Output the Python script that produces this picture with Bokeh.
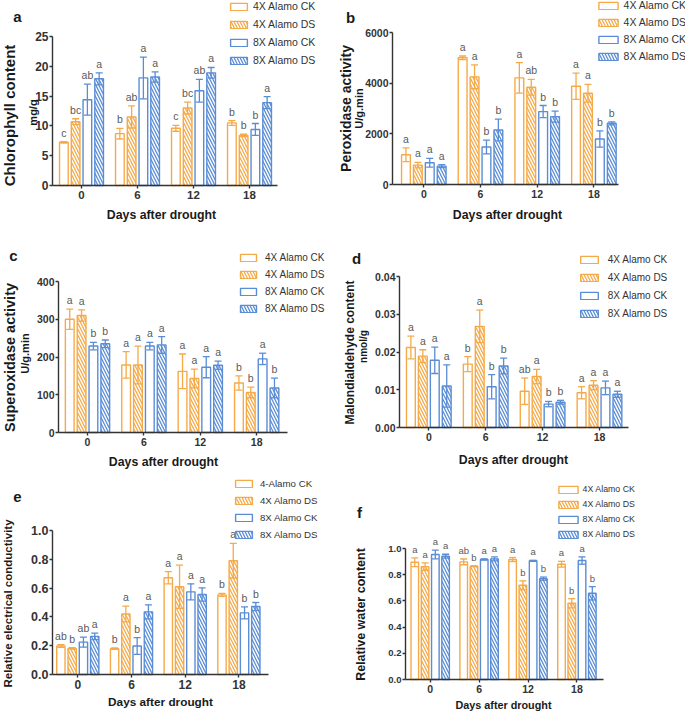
import math
from bokeh.plotting import figure
from bokeh.models import (Range1d, FixedTicker, Label, Legend, LegendItem, Whisker,
                          TeeHead, ColumnDataSource, NumeralTickFormatter)
from bokeh.layouts import column, row
from bokeh.core.properties import value
from bokeh.embed import file_html
from bokeh.resources import INLINE

# ---------------- data ----------------
days = ["0", "6", "12", "18"]
series_names = ["4X Alamo CK", "4X Alamo DS", "8X Alamo CK", "8X Alamo DS"]
series_names_e = ["4-Alamo CK", "4X Alamo DS", "8X Alamo CK", "8X Alamo DS"]

# a  Chlorophyll content (mg/g)
chl_4x_ck = [7.25, 8.7, 9.6, 10.5]
chl_4x_ck_err = [0.12, 0.9, 0.5, 0.4]
chl_4x_ck_sig = ["c", "b", "c", "b"]
chl_4x_ds = [10.7, 11.5, 13.0, 8.4]
chl_4x_ds_err = [0.5, 1.85, 1.0, 0.2]
chl_4x_ds_sig = ["bc", "ab", "bc", "b"]
chl_8x_ck = [14.4, 18.05, 15.9, 9.4]
chl_8x_ck_err = [2.6, 3.5, 1.9, 1.0]
chl_8x_ck_sig = ["ab", "a", "ab", "b"]
chl_8x_ds = [17.9, 18.2, 18.9, 13.9]
chl_8x_ds_err = [1.0, 0.85, 0.9, 1.0]
chl_8x_ds_sig = ["a", "a", "a", "a"]
chl_yticks = [0, 5, 10, 15, 20, 25]

# b  Peroxidase activity (U/g.min)
pod_4x_ck = [1175, 5003, 4210, 3880]
pod_4x_ck_err = [270, 70, 600, 520]
pod_4x_ck_sig = ["a", "a", "a", "a"]
pod_4x_ds = [766, 4250, 3840, 3600]
pod_4x_ds_err = [110, 470, 310, 350]
pod_4x_ds_sig = ["a", "a", "ab", "a"]
pod_8x_ck = [858, 1478, 2878, 1795]
pod_8x_ck_err = [170, 270, 240, 320]
pod_8x_ck_sig = ["a", "b", "b", "b"]
pod_8x_ds = [726, 2150, 2680, 2415]
pod_8x_ds_err = [60, 430, 220, 60]
pod_8x_ds_sig = ["a", "b", "b", "b"]
pod_yticks = [0, 2000, 4000, 6000]

# c  Superoxidase activity (U/g.min)
sod_4x_ck = [300, 179, 162, 131]
sod_4x_ck_err = [27, 35, 46, 19]
sod_4x_ck_sig = ["a", "a", "a", "b"]
sod_4x_ds = [310, 179, 143, 106]
sod_4x_ds_err = [15, 50, 25, 14]
sod_4x_ds_sig = ["a", "a", "a", "b"]
sod_8x_ck = [229, 229, 173, 195]
sod_8x_ck_err = [10, 10, 28, 15]
sod_8x_ck_sig = ["b", "a", "a", "a"]
sod_8x_ds = [235, 232, 178, 118]
sod_8x_ds_err = [10, 22, 11, 26]
sod_8x_ds_sig = ["b", "a", "a", "b"]
sod_yticks = [0, 100, 200, 300, 400]

# d  Malondialdehyde content (nmol/g)
mda_4x_ck = [0.0212, 0.0168, 0.0096, 0.0092]
mda_4x_ck_err = [0.003, 0.002, 0.0035, 0.0016]
mda_4x_ck_sig = ["a", "b", "ab", "a"]
mda_4x_ds = [0.0189, 0.0268, 0.0135, 0.0112]
mda_4x_ds_err = [0.0017, 0.0043, 0.0019, 0.0012]
mda_4x_ds_sig = ["a", "a", "a", "a"]
mda_8x_ck = [0.0178, 0.0108, 0.0062, 0.0105]
mda_8x_ck_err = [0.0035, 0.0032, 0.0007, 0.0018]
mda_8x_ck_sig = ["a", "b", "b", "a"]
mda_8x_ds = [0.011, 0.0163, 0.0067, 0.0088]
mda_8x_ds_err = [0.0056, 0.0021, 0.0005, 0.0008]
mda_8x_ds_sig = ["a", "b", "b", "a"]
mda_yticks = [0, 0.01, 0.02, 0.03, 0.04]

# e  Relative electrical conductivity
rec_4x_ck = [0.198, 0.179, 0.672, 0.553]
rec_4x_ck_err = [0.01, 0.005, 0.042, 0.01]
rec_4x_ck_sig = ["ab", "b", "a", "b"]
rec_4x_ds = [0.181, 0.42, 0.609, 0.79]
rec_4x_ds_err = [0.005, 0.055, 0.15, 0.12]
rec_4x_ds_sig = ["b", "a", "a", "a"]
rec_8x_ck = [0.225, 0.198, 0.574, 0.428]
rec_8x_ck_err = [0.035, 0.058, 0.056, 0.042]
rec_8x_ck_sig = ["ab", "b", "a", "b"]
rec_8x_ds = [0.265, 0.435, 0.556, 0.472]
rec_8x_ds_err = [0.023, 0.049, 0.046, 0.028]
rec_8x_ds_sig = ["a", "a", "a", "b"]
rec_yticks = [0, 0.2, 0.4, 0.6, 0.8, 1.0]

# f  Relative water content
rwc_4x_ck = [0.895, 0.898, 0.916, 0.88]
rwc_4x_ck_err = [0.033, 0.022, 0.015, 0.022]
rwc_4x_ck_sig = ["a", "ab", "a", "a"]
rwc_4x_ds = [0.862, 0.865, 0.719, 0.582]
rwc_4x_ds_err = [0.028, 0.003, 0.034, 0.035]
rwc_4x_ds_sig = ["a", "b", "b", "b"]
rwc_8x_ck = [0.954, 0.916, 0.906, 0.908]
rwc_8x_ck_err = [0.033, 0.005, 0.004, 0.028]
rwc_8x_ck_sig = ["a", "a", "a", "a"]
rwc_8x_ds = [0.941, 0.921, 0.77, 0.658]
rwc_8x_ds_err = [0.015, 0.015, 0.012, 0.051]
rwc_8x_ds_sig = ["a", "a", "b", "b"]
rwc_yticks = [0, 0.2, 0.4, 0.6, 0.8, 1.0]

# ---------------- style / layout ----------------
FONT = "Liberation Sans"
ORANGE = "#F5AA4A"
BLUE = "#5A8DD5"
COLORS = [ORANGE, ORANGE, BLUE, BLUE]
OFFSETS = [-0.315, -0.105, 0.105, 0.315]
BAR_W = 0.155
AXIS_COL = "#333333"


def fpx(v):
    return f"{v:.1f}px"


def make_panel(tile, frame, yticks, yfmt, data, names, texts, leg, fs):
    tx0, ty0, tx1, ty1 = tile
    L, B, T, g0, gs, xend = frame
    ymax = yticks[-1]
    W, H = tx1 - tx0, ty1 - ty0
    xs = (tx0 - g0) / gs
    xe = (tx1 - g0) / gs
    kk = ymax / float(B - T)
    ys = kk * (B - ty1)
    ye = kk * (B - ty0)
    p = figure(width=W, height=H, x_range=Range1d(xs, xe), y_range=Range1d(ys, ye),
               output_backend="svg", toolbar_location=None,
               min_border=0, min_border_left=0, min_border_bottom=0,
               min_border_top=0, min_border_right=0)
    p.outline_line_color = None
    p.xgrid.visible = False
    p.ygrid.visible = False
    p.background_fill_color = "white"
    p.border_fill_color = "white"

    xa = p.xaxis[0]
    ya = p.yaxis[0]
    for ax in (xa, ya):
        ax.axis_line_color = AXIS_COL
        ax.axis_line_width = 1.4
        ax.major_tick_line_color = AXIS_COL
        ax.major_tick_line_width = 1.4
        ax.major_tick_out = 3
        ax.major_tick_in = 0
        ax.minor_tick_line_color = None
        ax.major_label_text_font = FONT
        ax.major_label_text_font_style = "bold"
        ax.major_label_text_color = AXIS_COL
    xa.ticker = FixedTicker(ticks=list(range(len(days))))
    xa.major_label_overrides = {i: d for i, d in enumerate(days)}
    xa.fixed_location = 0
    xa.bounds = ((L - g0) / gs, (xend - g0) / gs)
    xa.major_label_text_font_size = fpx(fs[0])
    xa.major_label_standoff = 2
    ya.ticker = FixedTicker(ticks=yticks)
    ya.fixed_location = (L - g0) / gs
    ya.bounds = (0, ymax)
    ya.major_label_text_font_size = fpx(fs[1])
    ya.major_label_standoff = 1
    if yfmt:
        ya.formatter = NumeralTickFormatter(format=yfmt)

    renderers = []
    for k in range(4):
        means, errs, sig = data[k]
        xk = [i + OFFSETS[k] for i in range(len(days))]
        col = COLORS[k]
        src = ColumnDataSource(dict(
            x=xk, top=means,
            up=[m + e for m, e in zip(means, errs)],
            lo=[m - e for m, e in zip(means, errs)],
            lab=sig))
        kw = dict(fill_color="white", line_color=col, line_width=1.4)
        if k % 2 == 1:
            kw.update(hatch_pattern="\\", hatch_color=col, hatch_scale=6, hatch_weight=1.3)
        r = p.vbar(x="x", top="top", bottom=0, width=BAR_W, source=src, **kw)
        renderers.append(r)
        wh = Whisker(source=src, base="x", upper="up", lower="lo", line_color=col, line_width=1.3,
                     upper_head=TeeHead(size=7, line_color=col, line_width=1.3),
                     lower_head=TeeHead(size=7, line_color=col, line_width=1.3),
                     level="overlay")
        p.add_layout(wh)
        p.text(x="x", y="up", text="lab", source=src, text_align="center", text_baseline="bottom",
               y_offset=-3, text_font=value(FONT), text_font_size=value(fpx(fs[2])),
               text_color="#5a5a5a")

    # legend
    patch_left, row0, patch_w, patch_h, gap, lh, sp, lfs = leg
    gw = round(patch_w / 0.8)
    gh = round(patch_h / 0.8)
    stand = max(0, round(gap - 0.1 * gw))
    lx = (patch_left - tx0) - 0.1 * gw
    top_up = (ty1 - row0) + lh / 2.0
    ly = top_up - (4 * lh + 3 * sp)
    legend = Legend(items=[LegendItem(label=names[k], renderers=[renderers[k]]) for k in range(4)],
                    location=(lx, ly), orientation="vertical", padding=0, margin=0, spacing=sp,
                    glyph_width=gw, glyph_height=gh, label_height=lh, label_standoff=stand,
                    border_line_color=None, background_fill_alpha=0.0,
                    label_text_font=FONT, label_text_font_size=fpx(lfs),
                    label_text_color=AXIS_COL)
    p.add_layout(legend)

    for (txt, X, Y, size, rot) in texts:
        lab = Label(x=X - tx0, y=ty1 - Y, x_units="screen", y_units="screen", text=txt,
                    angle=math.pi / 2 if rot else 0, text_align="center", text_baseline="middle",
                    text_font=FONT, text_font_style="bold", text_font_size=fpx(size),
                    text_color="#1a1a1a")
        p.add_layout(lab)
    return p


XT = "Days after drought"

pa = make_panel(
    (0, 0, 339, 226), (52, 185, 36, 81, 56, 277), chl_yticks, None,
    [(chl_4x_ck, chl_4x_ck_err, chl_4x_ck_sig), (chl_4x_ds, chl_4x_ds_err, chl_4x_ds_sig),
     (chl_8x_ck, chl_8x_ck_err, chl_8x_ck_sig), (chl_8x_ds, chl_8x_ds_err, chl_8x_ds_sig)],
    series_names,
    [("a", 17, 16, 15, 0), ("Chlorophyll content", 9, 115, 15, 1), ("mg/g", 32, 112, 11, 1),
     (XT, 161, 214, 12.3, 0)],
    (230, 6, 17, 7, 6, 12, 6, 10.5), (11.5, 12, 10.5))

pb = make_panel(
    (339, 0, 685, 226), (392, 184, 32, 423.3, 56.7, 618), pod_yticks, None,
    [(pod_4x_ck, pod_4x_ck_err, pod_4x_ck_sig), (pod_4x_ds, pod_4x_ds_err, pod_4x_ds_sig),
     (pod_8x_ck, pod_8x_ck_err, pod_8x_ck_sig), (pod_8x_ds, pod_8x_ds_err, pod_8x_ds_sig)],
    series_names,
    [("b", 350, 17, 15, 0), ("Peroxidase activity", 345, 108, 14, 1), ("U/g.min", 358, 108, 11, 1),
     (XT, 507, 214, 12.3, 0)],
    (598, 5, 19, 7, 6, 12, 5, 10.5), (10.5, 10.5, 10.5))

pc = make_panel(
    (0, 226, 339, 470), (58, 432, 281, 87, 56.4, 287), sod_yticks, None,
    [(sod_4x_ck, sod_4x_ck_err, sod_4x_ck_sig), (sod_4x_ds, sod_4x_ds_err, sod_4x_ds_sig),
     (sod_8x_ck, sod_8x_ck_err, sod_8x_ck_sig), (sod_8x_ds, sod_8x_ds_err, sod_8x_ds_sig)],
    series_names,
    [("c", 13, 255, 15, 0), ("Superoxidase activity", 9, 357, 14.5, 1), ("U/g.min", 24, 353, 11, 1),
     (XT, 163, 461, 12.3, 0)],
    (240, 257.3, 16, 7, 9, 12, 5, 10), (10.5, 10.5, 10.5))

pd_ = make_panel(
    (339, 226, 685, 470), (399, 427, 276, 428.3, 56.9, 628), mda_yticks, "0.00",
    [(mda_4x_ck, mda_4x_ck_err, mda_4x_ck_sig), (mda_4x_ds, mda_4x_ds_err, mda_4x_ds_sig),
     (mda_8x_ck, mda_8x_ck_err, mda_8x_ck_sig), (mda_8x_ds, mda_8x_ds_err, mda_8x_ds_sig)],
    series_names,
    [("d", 356, 258, 15, 0), ("Malondialdehyde content", 349, 352, 12, 1), ("nmol/g", 363, 346, 10, 1),
     (XT, 513, 459, 12.3, 0)],
    (580, 259, 18, 7, 10, 12, 6, 10), (10.5, 10.5, 10.5))

pe = make_panel(
    (0, 470, 339, 711), (52, 674, 530, 77.3, 53.7, 268), rec_yticks, "0.0",
    [(rec_4x_ck, rec_4x_ck_err, rec_4x_ck_sig), (rec_4x_ds, rec_4x_ds_err, rec_4x_ds_sig),
     (rec_8x_ck, rec_8x_ck_err, rec_8x_ck_sig), (rec_8x_ds, rec_8x_ds_err, rec_8x_ds_sig)],
    series_names_e,
    [("e", 17, 496, 15, 0), ("Relative electrical conductivity", 7, 603, 11.5, 1),
     (XT, 160, 701, 11.8, 0)],
    (235, 483.3, 17, 7, 8, 12, 5, 9.7), (12, 12.5, 10.5))

pf = make_panel(
    (339, 470, 685, 711), (405, 679, 548, 429.7, 48.9, 603), rwc_yticks, "0.0",
    [(rwc_4x_ck, rwc_4x_ck_err, rwc_4x_ck_sig), (rwc_4x_ds, rwc_4x_ds_err, rwc_4x_ds_sig),
     (rwc_8x_ck, rwc_8x_ck_err, rwc_8x_ck_sig), (rwc_8x_ds, rwc_8x_ds_err, rwc_8x_ds_sig)],
    series_names,
    [("f", 359, 512, 15, 0), ("Relative water content", 360, 614, 12.5, 1),
     (XT, 503, 704, 10.8, 0)],
    (558, 489, 19, 7, 5, 11, 4, 8.8), (10.5, 9.5, 9.5))

layout = column(row(pa, pb), row(pc, pd_), row(pe, pf))
open("out.html", "w").write(file_html(layout, INLINE))
